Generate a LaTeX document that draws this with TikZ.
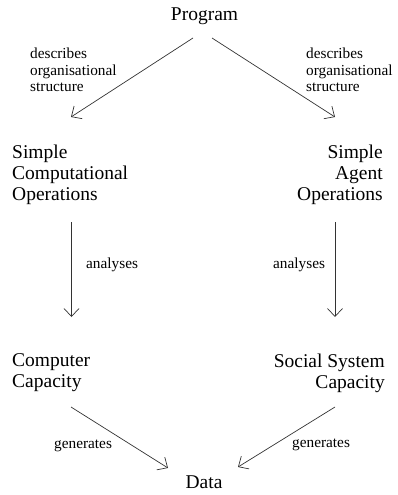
\documentclass[tikz,border=0pt]{standalone}
\usepackage{fontspec}
\setmainfont{Liberation Serif}
\usetikzlibrary{arrows.meta}
\begin{document}
\begin{tikzpicture}[x=1pt,y=-1pt,
  big/.style={font=\fontsize{19.5}{21}\selectfont, inner sep=0pt},
  lbl/.style={font=\fontsize{15.3}{16.6}\selectfont, inner sep=0pt},
  conn/.style={draw=black!80, line width=0.7pt, -{Straight Barb[length=8pt,width=15pt,line width=0.7pt]}}]
\useasboundingbox (0,0) rectangle (397,495);
% nodes
\node[big, anchor=base] (prog) at (204.5,21) {Program};
\node[big, anchor=base] (data) at (204,488) {Data};
\node[big, anchor=north west, align=left] (sco) at (12,144.6) {Simple\\Computational\\Operations};
\node[big, anchor=north east, align=right] (sao) at (383,144.6) {Simple\\Agent\\Operations};
\node[big, anchor=north west, align=left] (cc) at (12,353.6) {Computer\\Capacity};
\node[big, anchor=north east, align=right] (ssc) at (385,353.6) {Social System\\Capacity};
% labels
\node[lbl, anchor=north west, align=left] (l1) at (30,47.6) {describes\\organisational\\structure};
\node[lbl, anchor=north west, align=left] (l2) at (306,47.6) {describes\\organisational\\structure};
\node[lbl, anchor=base west] (l3) at (86,268) {analyses};
\node[lbl, anchor=base west] (l4) at (273,268) {analyses};
\node[lbl, anchor=base west] (l5) at (54,448) {generates};
\node[lbl, anchor=base west] (l6) at (292,447) {generates};
% connector end points
\coordinate (p1) at (193,38);
\coordinate (p2) at (71,117);
\coordinate (p3) at (212,38);
\coordinate (p4) at (335,117);
\coordinate (p5) at (71.5,222);
\coordinate (p6) at (71.5,317);
\coordinate (p7) at (335,222);
\coordinate (p8) at (335,317);
\coordinate (p9) at (71,407);
\coordinate (p10) at (168,468);
\coordinate (p11) at (335,407);
\coordinate (p12) at (238,467);
\draw[conn] (p1) -- (p2);
\draw[conn] (p3) -- (p4);
\draw[conn] (p5) -- (p6);
\draw[conn] (p7) -- (p8);
\draw[conn] (p9) -- (p10);
\draw[conn] (p11) -- (p12);
\end{tikzpicture}
\end{document}
